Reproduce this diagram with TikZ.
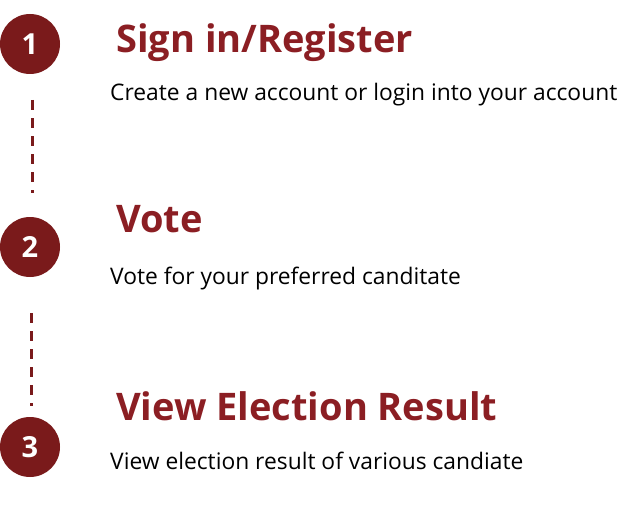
\documentclass[tikz,border=0pt]{standalone}
\usepackage{fontspec}
\setmainfont{Open Sans}
\definecolor{circ}{HTML}{7A1A1B}
\definecolor{ttl}{HTML}{8B1E23}
\begin{document}
\begin{tikzpicture}[x=1pt,y=-1pt,
  stepnum/.style={circle,fill=circ,minimum size=60pt,inner sep=0pt,text=white,font=\fontsize{29}{29}\selectfont\bfseries},
  title/.style={anchor=base west,inner sep=0pt,text=ttl,font=\fontsize{38}{38}\selectfont\bfseries},
  body/.style={anchor=base west,inner sep=0pt,text=black,font=\fontsize{22.8}{23}\selectfont},
  link/.style={draw=circ,line width=3pt,dash pattern=on 10pt off 8pt}]
\useasboundingbox (0,0) rectangle (620,508);
\node[stepnum] (n1) at (30,44) {1};
\node[stepnum] (n2) at (30,247) {2};
\node[stepnum] (n3) at (30,447) {3};
\coordinate (a1) at (32,100); \coordinate (b1) at (32,193);
\coordinate (a2) at (31,313); \coordinate (b2) at (31,406);
\draw[link] (a1) -- (b1);
\draw[link] (a2) -- (b2);
\node[title] (t1) at (116,53) {Sign in/Register};
\node[body] (d1) at (110,101) {Create a new account or login into your account};
\node[title] (t2) at (116,232) {Vote};
\node[body] (d2) at (110,284) {Vote for your preferred canditate};
\node[title] (t3) at (116,420) {View Election Result};
\node[body] (d3) at (110,469) {View election result of various candiate};
\end{tikzpicture}
\end{document}
